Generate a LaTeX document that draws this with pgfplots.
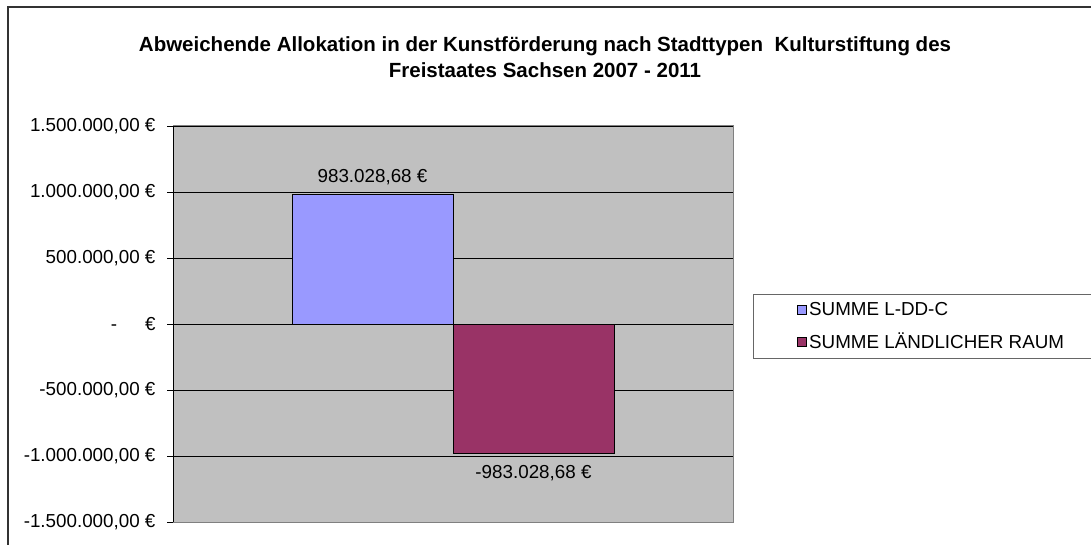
\documentclass[border=0pt]{standalone}
\usepackage{fontspec}
\setmainfont{Liberation Sans}
\usepackage{pgfplots}
\pgfplotsset{compat=1.18}
\definecolor{plotgray}{HTML}{C0C0C0}
\definecolor{barblue}{HTML}{9999FF}
\definecolor{barplum}{HTML}{993366}
\pgfplotsset{sqlegend/.style={legend image code/.code={\draw[##1,draw=black,line width=0.8pt] (0pt,-4.5pt) rectangle (9pt,4.5pt);}}}
\newcommand\lblfont{\fontsize{18.8}{22}\selectfont}

\begin{document}
\begin{tikzpicture}[x=1pt,y=1pt]
\useasboundingbox (0,0) rectangle (1091,544);
\fill[white] (0,0) rectangle (1091,544);
\draw[line width=2pt,black!80] (7.5,-20) -- (7.5,536.5) -- (1110,536.5);
\node[align=center,font=\bfseries\fontsize{20.5}{26}\selectfont] at (545,487)
  {Abweichende Allokation in der Kunstförderung nach Stadttypen\ \ Kulturstiftung des\\Freistaates Sachsen 2007 - 2011};
\begin{axis}[
  at={(173pt,22pt)}, anchor=south west,
  scale only axis, width=560pt, height=396pt,
  xmin=-1, xmax=1, ymin=-1500000, ymax=1500000,
  xtick=\empty,
  ytick={-1500000,-1000000,-500000,0,500000,1000000,1500000},
  yticklabels={{-1.500.000,00 €},{-1.000.000,00 €},{-500.000,00 €},{-\hspace{28pt}€},{500.000,00 €},{1.000.000,00 €},{1.500.000,00 €}},
  scaled y ticks=false,
  ytick pos=left,
  ymajorgrids, grid style={black, line width=0.8pt},
  axis line style={draw=none},
  axis background/.style={fill=plotgray},
  tick align=outside, major tick length=6pt,
  ytick style={black, line width=0.8pt},
  yticklabel style={font=\lblfont, xshift=-8pt},
  ybar, bar width=0.575,
  point meta=explicit symbolic,
  nodes near coords,
  every node near coord/.append style={font=\lblfont, text=black, inner sep=9pt},
  legend style={at={(rel axis cs:1.0357,0.5758)}, anchor=north west,
    draw=black!60, line width=0.8pt, font=\lblfont, row sep=12pt,
    inner xsep=44pt, inner ysep=6pt, cells={anchor=west}},
  clip=false
]
\addplot[fill=barblue, draw=black, line width=0.8pt, bar shift=0pt, sqlegend]
  coordinates {(-0.2875,983028.68) [983.028,68 €]};
\addlegendentry{SUMME L-DD-C}
\addplot[fill=barplum, draw=black, line width=0.8pt, bar shift=0pt, sqlegend,
  every node near coord/.append style={anchor=north, inner sep=11pt}]
  coordinates {(0.2875,-983028.68) [-983.028,68 €]};
\addlegendentry{SUMME LÄNDLICHER RAUM}
\draw[black!50, line width=1pt] (rel axis cs:0,0) rectangle (rel axis cs:1,1);
\draw[black, line width=0.8pt] (rel axis cs:0,0) -- (rel axis cs:0,1);
\end{axis}
\end{tikzpicture}
\end{document}
